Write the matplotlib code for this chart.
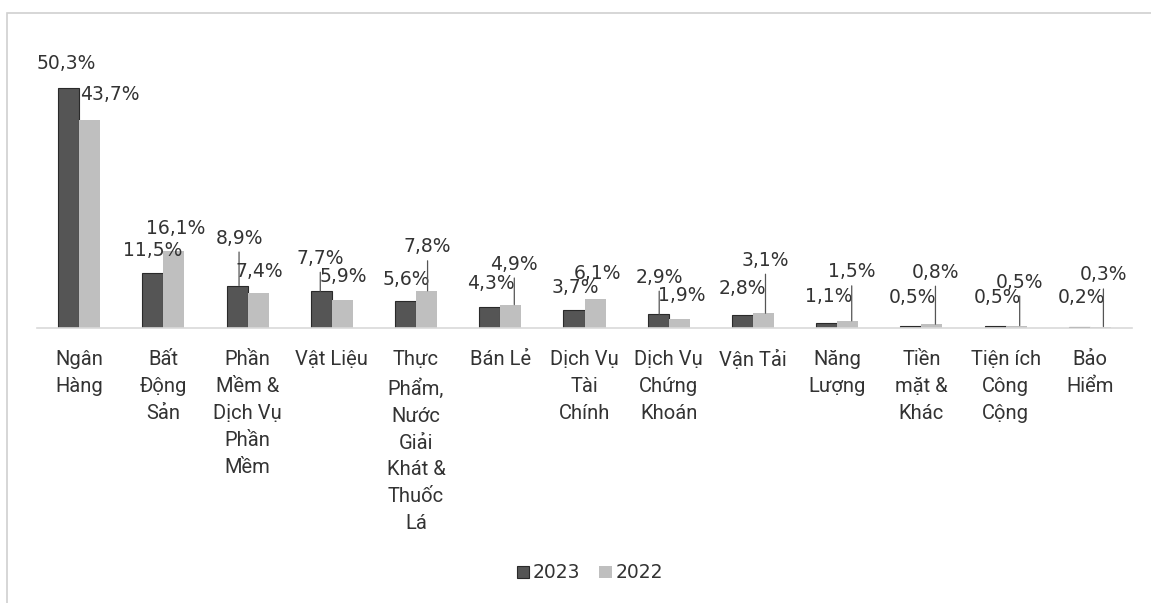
import matplotlib
matplotlib.use("Agg")
import matplotlib.pyplot as plt
from matplotlib.patches import Rectangle
import numpy as np

# du lieu
nganh = ["Ngân\nHàng", "Bất\nĐộng\nSản", "Phần\nMềm &\nDịch Vụ\nPhần\nMềm", "Vật Liệu",
         "Thực\nPhẩm,\nNước\nGiải\nKhát &\nThuốc\nLá", "Bán Lẻ", "Dịch Vụ\nTài\nChính",
         "Dịch Vụ\nChứng\nKhoán", "Vận Tải", "Năng\nLượng", "Tiền\nmặt &\nKhác",
         "Tiện ích\nCông\nCộng", "Bảo\nHiểm"]
v2023 = [50.3, 11.5, 8.9, 7.7, 5.6, 4.3, 3.7, 2.9, 2.8, 1.1, 0.5, 0.5, 0.2]
v2022 = [43.7, 16.1, 7.4, 5.9, 7.8, 4.9, 6.1, 1.9, 3.1, 1.5, 0.8, 0.5, 0.3]

# vi tri nhan (pixel so voi dinh cot) va duong dan
dx23 = [-2, 0, 2, -1, 0.5, 1.5, 1, 1, 0, 2, 1.5, 2, 2]
dy23 = [25, 23, 47.5, 33, 22, 23.5, 22.4, 37, 26.6, 26, 28.6, 28.6, 30]
dx22 = [20, 1.4, 1, 1, 1, 3.5, 2.5, 2, 2, 4, 3.5, 3.5, 3]
dy22 = [24.6, 23, 21.7, 23, 44, 40.6, 25, 23, 53, 49, 52, 43.6, 51.6]
lead23 = [0, 0, 1, 1, 0, 0, 0, 1, 0, 0, 0, 0, 0]
lead22 = [0, 0, 0, 0, 1, 1, 0, 0, 1, 1, 1, 1, 1]

c23 = "#555555"
c22 = "#bfbfbf"
txt = "#333333"

fig = plt.figure(figsize=(11.51, 6.03), dpi=100)
fig.patches.append(Rectangle((7 / 1151, -0.05), 1.2, 1.05 - 13 / 603, transform=fig.transFigure,
                             fill=False, edgecolor="#d0d0d0", lw=1.2))
ax = fig.add_axes([37 / 1151, 275 / 603, 1095 / 1151, 262.35 / 603])

x = np.arange(len(nganh))
w = 0.25
ax.bar(x - w / 2, v2023, w, color=c23, edgecolor="#2a2a2a", lw=0.8, label="2023")
ax.bar(x + w / 2, v2022, w, color=c22, lw=0, label="2022")

def nhan(xs, vals, dxs, dys, leads):
    for xi, v, dx, dy, ld in zip(xs, vals, dxs, dys, leads):
        ax.annotate(f"{v:.1f}%".replace(".", ","), xy=(xi, v), xytext=(dx, dy),
                    textcoords="offset pixels", ha="center", va="center",
                    fontsize=13.5, color=txt, family="DejaVu Sans")
        if ld:
            # duong dan thang dung tu nhan xuong dinh cot
            ax.annotate("", xy=(xi + dx / 84.2, v), xytext=(0, dy - 14),
                        textcoords="offset pixels",
                        arrowprops=dict(arrowstyle="-", color="#555555", lw=0.9,
                                        shrinkA=0, shrinkB=0))

nhan(x - w / 2, v2023, dx23, dy23, lead23)
nhan(x + w / 2, v2022, dx22, dy22, lead22)

ax.set_xlim(-0.5, len(nganh) - 0.5)
ax.set_ylim(0, 55)
ax.set_yticks([])
for s in ["top", "right", "left"]:
    ax.spines[s].set_visible(False)
ax.spines["bottom"].set_color("#d9d9d9")
ax.spines["bottom"].set_linewidth(1.2)
ax.set_xticks(x)
ax.set_xticklabels(nganh, fontsize=14.5, color=txt, family="Roboto", linespacing=1.53)
ax.tick_params(axis="x", length=0, pad=16)

fig.legend(loc="center", bbox_to_anchor=(590 / 1151, 1 - 573 / 603), ncol=2, frameon=False,
           handlelength=0.65, handleheight=0.65, handletextpad=0.2, columnspacing=1.0,
           prop={"family": "DejaVu Sans", "size": 13.5}, labelcolor=txt)

fig.savefig("out.png", dpi=100)
